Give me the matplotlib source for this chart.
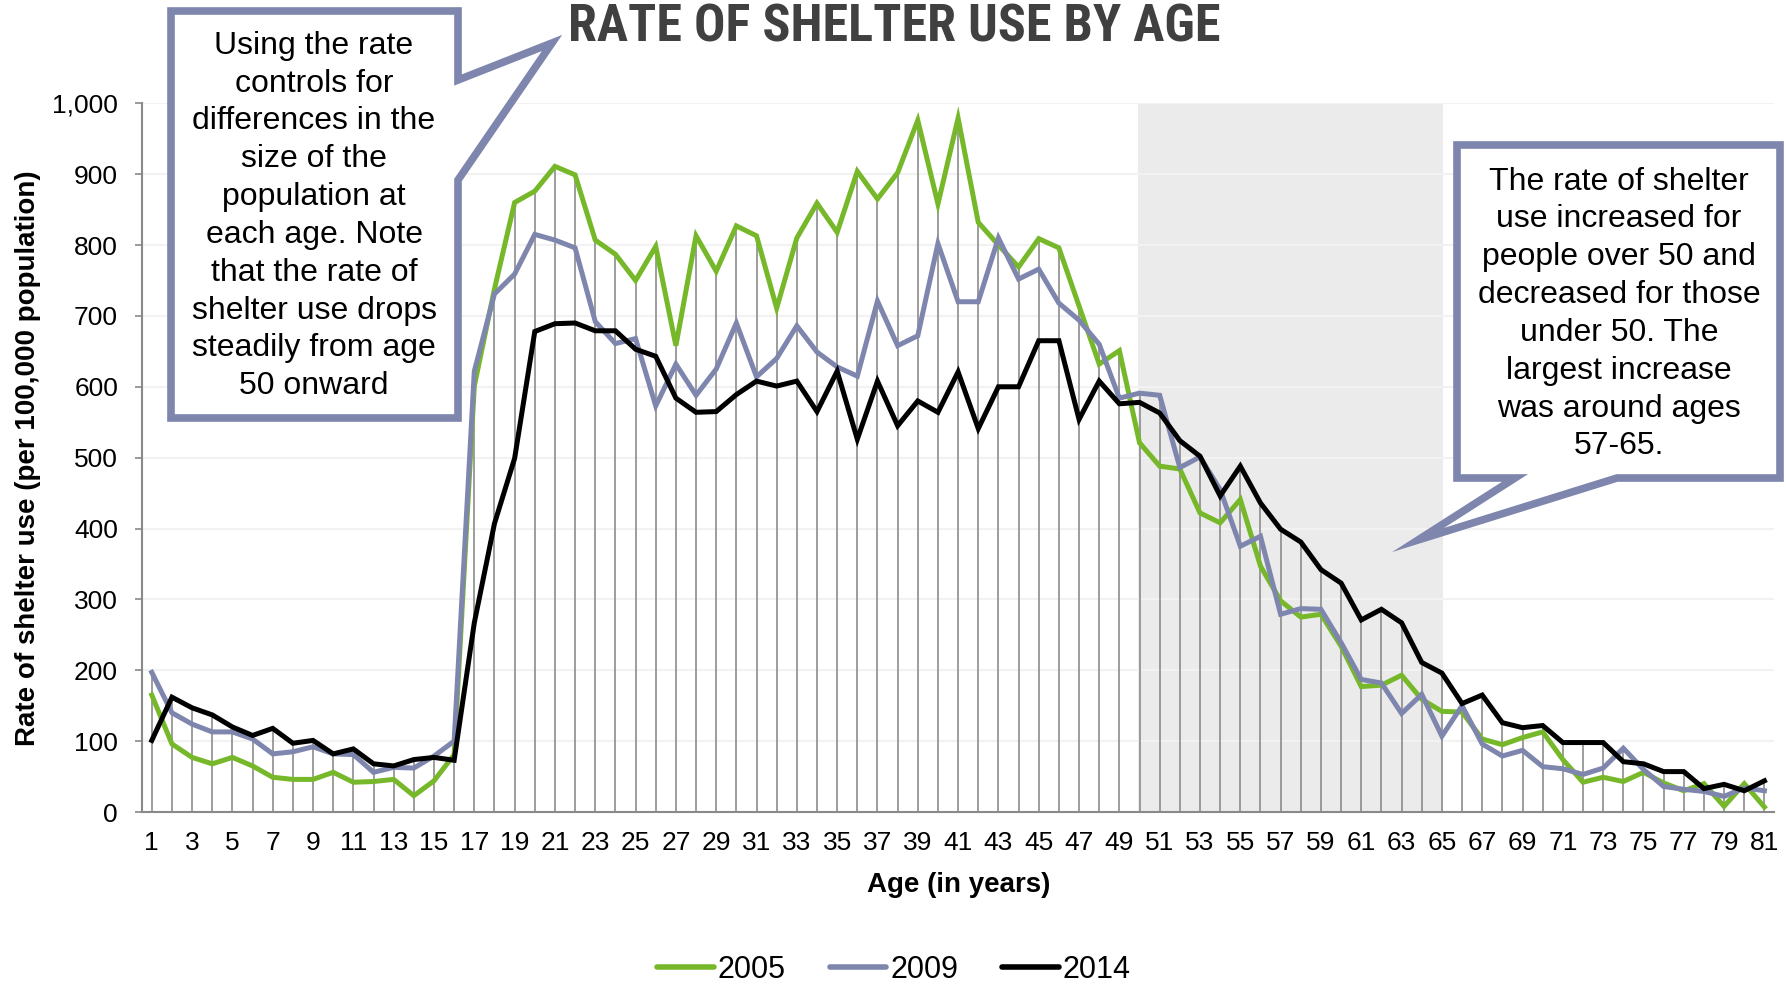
import matplotlib
matplotlib.use("Agg")
import matplotlib.pyplot as plt
from matplotlib.patches import Polygon
import numpy as np

ages = list(range(1, 82))
rate_2005 = [165, 96, 77, 68, 77, 65, 49, 46, 46, 56, 42, 43, 46, 23, 44, 81,
             601, 738, 860, 876, 911, 899, 807, 787, 750, 798, 658, 813, 763, 827,
             813, 711, 810, 859, 818, 904, 865, 902, 976, 858, 979, 832, 800, 769,
             809, 796, 714, 632, 651, 521, 488, 484, 422, 408, 441, 347, 298, 275,
             279, 234, 177, 179, 193, 159, 142, 141, 103, 95, 105, 113, 74, 42, 49,
             43, 56, 41, 30, 40, 8, 40, 7]
rate_2009 = [197, 140, 124, 113, 113, 103, 82, 85, 92, 82, 81, 56, 63, 62, 79, 100,
             622, 731, 759, 815, 807, 796, 692, 661, 668, 573, 632, 588, 625, 690,
             614, 640, 686, 649, 628, 615, 721, 658, 672, 802, 720, 720, 810, 752,
             766, 718, 694, 660, 584, 591, 588, 486, 501, 455, 375, 389, 279, 287,
             286, 239, 187, 182, 139, 166, 107, 150, 96, 79, 87, 64, 61, 53, 62,
             90, 60, 36, 32, 29, 22, 34, 30]
rate_2014 = [101, 162, 147, 137, 120, 108, 118, 97, 101, 82, 89, 68, 65, 74, 77, 73,
             267, 407, 499, 678, 689, 690, 679, 679, 653, 643, 584, 564, 565, 589,
             608, 601, 608, 565, 622, 526, 608, 545, 580, 564, 621, 541, 600, 600,
             665, 665, 554, 608, 576, 578, 563, 524, 502, 446, 488, 436, 399, 381,
             342, 323, 271, 286, 267, 211, 196, 153, 165, 126, 119, 122, 98, 98, 98,
             71, 68, 57, 57, 33, 39, 30, 44]
series_names = ["2005", "2009", "2014"]
yticks = list(range(0, 1001, 100))
xtick_ages = list(range(1, 82, 2))
shade_range = (49.9, 65.05)

title = "RATE OF SHELTER USE BY AGE"
ylabel = "Rate of shelter use (per 100,000 population)"
xlabel = "Age (in years)"
note_left = ("Using the rate\ncontrols for\ndifferences in the\nsize of the\npopulation at\n"
             "each age. Note\nthat the rate of\nshelter use drops\nsteadily from age\n50 onward")
note_right = ("The rate of shelter\nuse increased for\npeople over 50 and\ndecreased for those\n"
              "under 50. The\nlargest increase\nwas around ages\n57-65.")

W, H = 1786, 984
fig = plt.figure(figsize=(W / 100, H / 100), dpi=100)
plt.rcParams['font.family'] = ['Liberation Sans', 'DejaVu Sans']

def fx(x):
    return x / W

def fy(y):
    return 1 - y / H

ax = fig.add_axes([fx(141.7), fy(812), (1774.5 - 141.7) / W, (812 - 103.3) / H])

green = "#76B82A"
blue = "#7E86AE"
black = "#000000"

ax.axvspan(*shade_range, color="#EBEBEB", zorder=0, lw=0)
for yt in yticks[1:]:
    ax.axhline(yt, color="#F2F2F2", lw=1.5, zorder=1)

maxv = np.max(np.array([rate_2005, rate_2009, rate_2014]), axis=0)
ax.vlines(ages, 0, maxv, color="#8C8C8C", lw=1.2, zorder=2)

lw = 3.6
ax.plot(ages, rate_2005, color=green, lw=lw, label=series_names[0], zorder=3,
        solid_joinstyle="miter")
ax.plot(ages, rate_2009, color=blue, lw=lw, label=series_names[1], zorder=4,
        solid_joinstyle="miter")
ax.plot(ages, rate_2014, color=black, lw=lw, label=series_names[2], zorder=5,
        solid_joinstyle="miter")

ax.set_xlim(0.5, 81.5)
ax.set_ylim(0, 1000)
ax.set_yticks(yticks)
ax.set_yticklabels([f"{v:,}" for v in yticks], fontsize=19)
ax.set_xticks(xtick_ages)
ax.set_xticklabels([str(a) for a in xtick_ages], fontsize=19)
ax.tick_params(axis="y", length=5, width=1.2, color="#898989", pad=12)
ax.tick_params(axis="x", length=0, pad=14)
for s in ["top", "right"]:
    ax.spines[s].set_visible(False)
for s in ["left", "bottom"]:
    ax.spines[s].set_color("#898989")
    ax.spines[s].set_linewidth(1.5)
ax.set_facecolor("none")

fig.text(fx(28), fy(458), ylabel, rotation=90, ha="center", va="center",
         fontsize=20, fontweight="bold")
fig.text(fx(959), fy(885), xlabel, ha="center", va="center", fontsize=20,
         fontweight="bold")
fig.text(fx(894), fy(28), title, ha="center", va="center", fontsize=37.5,
         fontweight="bold", color="#404040",
         family=["Roboto Condensed", "Liberation Sans Narrow", "Roboto", "DejaVu Sans"])

leg = fig.legend(loc="center", bbox_to_anchor=(fx(894), fy(970)), ncol=3,
                 frameon=False, fontsize=22, handlelength=1.85, handletextpad=0.12,
                 columnspacing=1.45)
for h in leg.get_lines():
    h.set_linewidth(4)
    h.set_solid_capstyle("round")

def callout(pts, text, cx, cy):
    poly = Polygon([(fx(x), fy(y)) for x, y in pts], closed=True,
                   transform=fig.transFigure, facecolor="white",
                   edgecolor="#7E86AE", lw=5.5, joinstyle="miter", zorder=10)
    fig.add_artist(poly)
    fig.text(fx(cx), fy(cy), text, ha="center", va="center", fontsize=23,
             linespacing=1.34, zorder=11)

callout([(171, 11), (458, 11), (458, 80), (552, 43), (458, 180), (458, 418), (171, 418)],
        note_left, 314, 216)
callout([(1457, 145), (1780, 145), (1780, 478), (1617, 478), (1418, 540), (1515, 478),
         (1457, 478)], note_right, 1619, 314)

fig.savefig("out.png", dpi=100)
